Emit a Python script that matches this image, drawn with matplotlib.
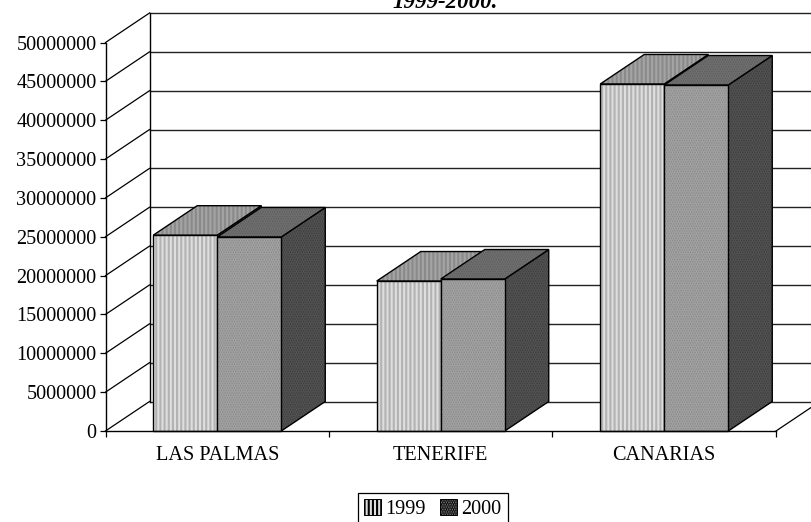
import matplotlib
matplotlib.use('Agg')
import matplotlib.pyplot as plt
from matplotlib.patches import Polygon, Patch

plt.rcParams['font.family'] = ['Liberation Serif', 'DejaVu Serif']
plt.rcParams['hatch.linewidth'] = 1.5

categories = ['LAS PALMAS', 'TENERIFE', 'CANARIAS']
years = ['1999', '2000']
values_1999 = [25200000, 19300000, 44660000]
values_2000 = [24970000, 19560000, 44530000]
y_ticks = [0, 5000000, 10000000, 15000000, 20000000, 25000000,
           30000000, 35000000, 40000000, 45000000, 50000000]

W, H = 811, 522
LEFT, RIGHT, BOTTOM, TOP = 105.5, 776.0, 431.0, 42.5
DEPTH_X = 44 / (RIGHT - LEFT) * 3          # depth of the 3d box in category units
DEPTH_Y = 29.5 / (BOTTOM - TOP) * 50000000  # same, in value units
BAR_W = 64 / (RIGHT - LEFT) * 3

# (front, top, side) as (face, hatch colour)
STYLE_1999 = [('#dedede', '#b2b2b2'), ('#8a8a8a', '#a4a4a4'), ('#6c6c6c', '#868686')]
STYLE_2000 = [('#858585', '#a8a8a8'), ('#5a5a5a', '#747474'), ('#383838', '#585858')]
HATCHES = ['||||', '.......']
FONT_SIZE = 14.6

fig = plt.figure(figsize=(W / 100, H / 100), dpi=100)
ax = fig.add_axes([LEFT / W, (H - BOTTOM) / H, (RIGHT - LEFT) / W, (BOTTOM - TOP) / H])
ax.patch.set_alpha(0)
ax.set_xlim(0, 3)
ax.set_ylim(0, 50000000)

far_right = 3 + DEPTH_X + 0.3

# walls and grid
for t in y_ticks:
    ax.plot([0, DEPTH_X], [t, t + DEPTH_Y], color='black', lw=0.9, clip_on=False, zorder=1)
    ax.plot([DEPTH_X, far_right], [t + DEPTH_Y] * 2, color='#222222', lw=1.0, clip_on=False, zorder=1)
ax.plot([DEPTH_X, DEPTH_X], [DEPTH_Y, 50000000 + DEPTH_Y], color='black', lw=1.0, clip_on=False, zorder=1)
ax.plot([3, 3 + DEPTH_X], [0, DEPTH_Y], color='black', lw=0.9, clip_on=False, zorder=1)


def box(x0, x1, v, style, hatch, z):
    front = [(x0, 0), (x1, 0), (x1, v), (x0, v)]
    top = [(x0, v), (x1, v), (x1 + DEPTH_X, v + DEPTH_Y), (x0 + DEPTH_X, v + DEPTH_Y)]
    side = [(x1, 0), (x1 + DEPTH_X, DEPTH_Y), (x1 + DEPTH_X, v + DEPTH_Y), (x1, v)]
    for k, (pts, (face, hc)) in enumerate(zip([side, top, front], [style[2], style[1], style[0]])):
        ax.add_patch(Polygon(pts, facecolor=face, edgecolor=hc, hatch=hatch, lw=0,
                             clip_on=False, zorder=z + k * 0.1))
        ax.add_patch(Polygon(pts, fill=False, edgecolor='black', lw=1.0,
                             clip_on=False, zorder=z + k * 0.1 + 0.05))


for i in range(len(categories)):
    c = i + 0.5
    box(c - BAR_W, c, values_1999[i], STYLE_1999, HATCHES[0], 3 + i)
    box(c, c + BAR_W, values_2000[i], STYLE_2000, HATCHES[1], 3.5 + i)

# axes
for s in ['top', 'right']:
    ax.spines[s].set_visible(False)
for s in ['left', 'bottom']:
    ax.spines[s].set_linewidth(1.0)
    ax.spines[s].set_zorder(10)
ax.set_yticks(y_ticks)
ax.set_yticklabels([str(t) for t in y_ticks])
ax.tick_params(axis='y', length=4.5, width=0.9, pad=2, labelsize=FONT_SIZE)
ax.set_xticks([0, 1, 2, 3])
ax.set_xticklabels([])
ax.tick_params(axis='x', which='major', length=4.5, width=0.9)
ax.set_xticks([0.5, 1.5, 2.5], minor=True)
ax.set_xticklabels(categories, minor=True, fontsize=FONT_SIZE)
ax.tick_params(axis='x', which='minor', length=0, pad=11)

# title is cut off by the top of the picture
fig.text(445 / W, 1 - 8 / H, '1999-2000.', ha='center', va='baseline',
         fontsize=16.5, fontweight='bold', fontstyle='italic')

handles = [Patch(facecolor=STYLE_1999[0][0], edgecolor='black', hatch='||||', lw=0.7),
           Patch(facecolor=STYLE_2000[0][0], edgecolor='black', hatch='.......', lw=0.7)]
leg = fig.legend(handles, years, loc='upper center', bbox_to_anchor=(433 / W, 1 - 493 / H),
                 ncol=2, fancybox=False, framealpha=1, edgecolor='black', fontsize=FONT_SIZE,
                 handlelength=0.8, handleheight=0.8, handletextpad=0.25, columnspacing=0.7,
                 borderaxespad=0, borderpad=0.3)
leg.get_frame().set_linewidth(0.9)

fig.savefig('out.png', dpi=100)
